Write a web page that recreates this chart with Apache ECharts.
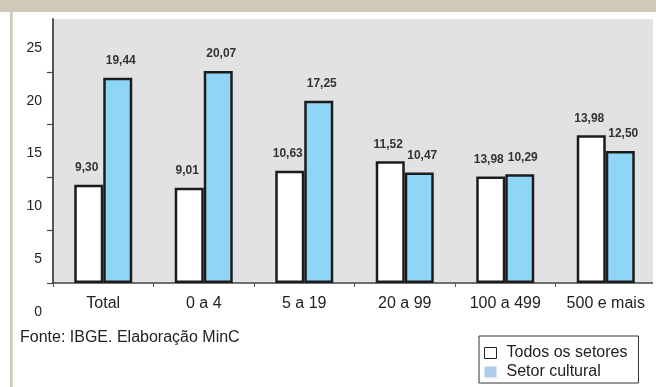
<!DOCTYPE html>
<html>
<head>
<meta charset="utf-8">
<script src="https://cdn.jsdelivr.net/npm/echarts@6/dist/echarts.min.js"></script>
<style>
html,body{margin:0;padding:0;background:#fff;}
#chart{width:656px;height:387px;}
</style>
</head>
<body>
<div id="chart"></div>
<script>
// Data
var categories = ['Total', '0 a 4', '5 a 19', '20 a 99', '100 a 499', '500 e mais'];
var seriesNames = ['Todos os setores', 'Setor cultural'];
// bar heights as drawn
var todosValues = [9.30, 9.01, 10.63, 11.52, 10.08, 13.98];
var culturalValues = [19.44, 20.07, 17.25, 10.47, 10.29, 12.50];
// printed value labels
var todosLabels = ['9,30', '9,01', '10,63', '11,52', '13,98', '13,98'];
var culturalLabels = ['19,44', '20,07', '17,25', '10,47', '10,29', '12,50'];
var yTicks = [0, 5, 10, 15, 20, 25];
var sourceText = 'Fonte: IBGE. Elaboração MinC';

var FONT = '"Liberation Sans", Arial, sans-serif';
var chart = echarts.init(document.getElementById('chart'), null, {renderer: 'canvas'});

var labelStyle = {
  show: true, position: 'top', distance: 11,
  fontFamily: FONT, fontSize: 12, fontWeight: 'bold', color: '#333'
};

chart.setOption({
  animation: false,
  backgroundColor: '#ffffff',
  grid: {
    left: 53, right: -6, top: 19, bottom: 104,
    show: true, backgroundColor: '#e2e2e4', borderWidth: 0
  },
  xAxis: {
    type: 'category',
    data: categories,
    axisLine: {show: true, lineStyle: {color: '#444', width: 1.5}},
    axisTick: {show: true, length: 4, alignWithLabel: false, lineStyle: {color: '#555', width: 1}},
    axisLabel: {fontFamily: FONT, fontSize: 16, color: '#222', margin: 13, interval: 0}
  },
  yAxis: {
    type: 'value',
    min: 0, max: yTicks[yTicks.length - 1], interval: 5,
    splitLine: {show: false},
    axisLine: {show: true, lineStyle: {color: '#444', width: 1.8}},
    axisTick: {show: true, length: 6, lineStyle: {color: '#444', width: 1.2}, customValues: yTicks.slice(0, 5)},
    axisLabel: {
      fontFamily: FONT, fontSize: 14, color: '#222', margin: 11,
      verticalAlign: 'top', padding: [22, 0, 0, 0],
      showMaxLabel: true, showMinLabel: true
    }
  },
  legend: {
    orient: 'vertical',
    left: 479, top: 336,
    padding: [9, 11, 3, 5],
    borderColor: '#333', borderWidth: 1,
    itemWidth: 12, itemHeight: 11, itemGap: 3, itemTextGap: 12,
    icon: 'rect',
    textStyle: {fontFamily: FONT, fontSize: 16, color: '#222', padding: [0, 0, 0, 5]},
    data: [
      {name: seriesNames[0], itemStyle: {color: '#ffffff', borderColor: '#222', borderWidth: 1}},
      {name: seriesNames[1], itemStyle: {color: '#aecbea', borderWidth: 0}}
    ]
  },
  graphic: [
    {type: 'rect', shape: {x: 0, y: 0, width: 656, height: 12}, style: {fill: '#d0c8b8'}, z: 100},
    {type: 'rect', shape: {x: 10, y: 12, width: 2.7, height: 375}, style: {fill: '#d0c8b8'}, z: 100},
    {type: 'rect', shape: {x: 653, y: 12, width: 3, height: 290}, style: {fill: '#ffffff'}, z: 100},
    {type: 'text', left: 20, top: 330, style: {text: sourceText, font: '16px ' + FONT, fill: '#222'}, z: 100}
  ],
  series: [
    {
      name: seriesNames[0], type: 'bar', data: todosValues,
      barWidth: 29, barGap: '0%',
      itemStyle: {color: '#ffffff', borderColor: '#1c1c1c', borderWidth: 2.5},
      label: Object.assign({}, labelStyle, {offset: [-2, 0], formatter: function (p) { return todosLabels[p.dataIndex]; }})
    },
    {
      name: seriesNames[1], type: 'bar', data: culturalValues,
      barWidth: 29, barGap: '0%',
      itemStyle: {color: '#8fd6f6', borderColor: '#1c1c1c', borderWidth: 2.5},
      label: Object.assign({}, labelStyle, {offset: [3, 0], formatter: function (p) { return culturalLabels[p.dataIndex]; }})
    }
  ]
});
</script>
</body>
</html>
